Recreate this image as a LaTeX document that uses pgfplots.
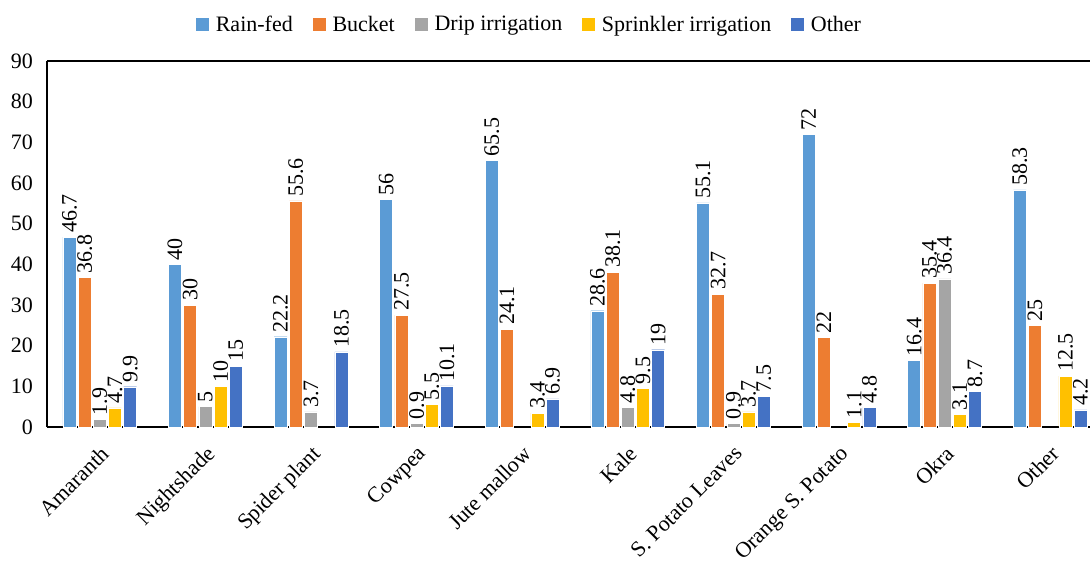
\documentclass[border=0pt]{standalone}
\usepackage{fontspec}
\setmainfont{Liberation Serif}
\usepackage{pgfplots}
\pgfplotsset{compat=1.18}
\definecolor{cRain}{HTML}{5B9BD5}
\definecolor{cBucket}{HTML}{ED7D31}
\definecolor{cDrip}{HTML}{A5A5A5}
\definecolor{cSprink}{HTML}{FFC000}
\definecolor{cOther}{HTML}{4472C4}
\newcommand\lfont{\fontsize{16.5}{19}\selectfont}
\begin{document}
\begin{tikzpicture}
\begin{axis}[
  width=782.25pt, height=274.5pt, scale only axis,
  xmin=-0.5, xmax=9.377, ymin=0, ymax=90,
  ytick={0,10,...,90},
  xtick={0,...,9},
  xticklabels={Amaranth, Nightshade, Spider plant, Cowpea, Jute mallow, Kale, S. Potato Leaves, Orange S. Potato, Okra, Other},
  axis x line*=bottom, axis y line*=left,
  axis line style={line width=1.4pt},
  major tick length=0pt,
  clip=false,
  ybar=1.65pt, bar width=9.75pt,
  /pgf/number format/assume math mode=true,
  tick label style={font=\lfont},
  yticklabel style={xshift=-7pt},
  xticklabel shift=10pt,
  xticklabel style={rotate=45, anchor=north east, inner sep=2pt},
  nodes near coords,
  every node near coord/.append style={rotate=90, anchor=west, font=\lfont, inner sep=3pt},
  legend style={at={(0.463,1.1)}, anchor=center, draw=none, fill=none,
    legend columns=-1, font=\lfont,
    /tikz/every even column/.append style={column sep=13pt}},
  legend image code/.code={\path (0pt,0pt) -- (12.5pt,0pt);
    \draw[#1, draw=none] (0pt,-4.9pt) rectangle (9.75pt,4.9pt);},
]
\addplot[fill=cRain, draw=white, line width=0.3pt] coordinates {(0,46.7) (1,40) (2,22.2) (3,56) (4,65.5) (5,28.6) (6,55.1) (7,72) (8,16.4) (9,58.3)};
\addplot[fill=cBucket, draw=white, line width=0.3pt] coordinates {(0,36.8) (1,30) (2,55.6) (3,27.5) (4,24.1) (5,38.1) (6,32.7) (7,22) (8,35.4) (9,25)};
\addplot[fill=cDrip, draw=white, line width=0.3pt] coordinates {(0,1.9) (1,5) (2,3.7) (3,0.9) (5,4.8) (6,0.9) (8,36.4)};
\addplot[fill=cSprink, draw=white, line width=0.3pt] coordinates {(0,4.7) (1,10) (3,5.5) (4,3.4) (5,9.5) (6,3.7) (7,1.1) (8,3.1) (9,12.5)};
\addplot[fill=cOther, draw=white, line width=0.3pt] coordinates {(0,9.9) (1,15) (2,18.5) (3,10.1) (4,6.9) (5,19) (6,7.5) (7,4.8) (8,8.7) (9,4.2)};
\legend{Rain-fed, Bucket, Drip irrigation, Sprinkler irrigation, Other}
\draw[line width=1.2pt] (rel axis cs:0,1) -- (rel axis cs:1,1);
\coordinate (bl) at (rel axis cs:0,0);
\end{axis}
\pgfresetboundingbox
\path (bl) ++(-35.25pt,-101.25pt) rectangle ++(817.5pt,421.5pt);
\end{tikzpicture}
\end{document}
